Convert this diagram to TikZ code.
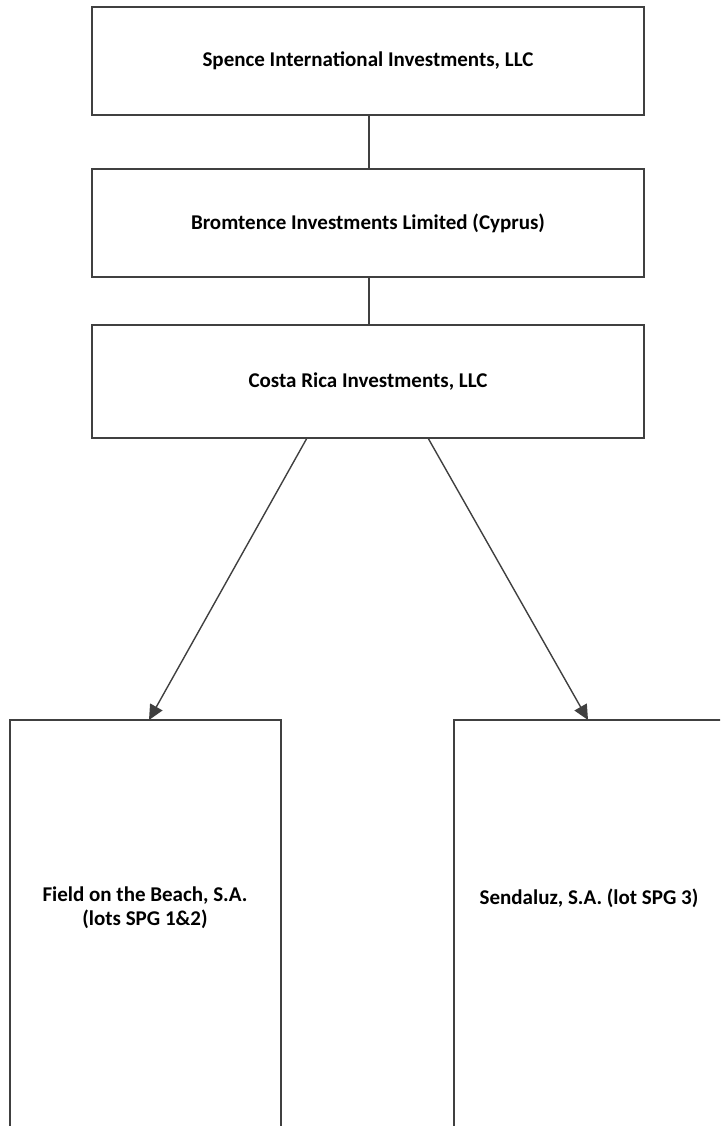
\documentclass[tikz,border=0pt]{standalone}
\usepackage{fontspec}
\setmainfont{Carlito}
\usetikzlibrary{arrows.meta}
\begin{document}
\begin{tikzpicture}[x=1pt,y=-1pt,
  box/.style={draw=black!75,line width=1.6pt,fill=white},
  lbl/.style={font=\bfseries\fontsize{21}{24}\selectfont,align=center,text=black},
  conn/.style={draw=black!75,line width=1.4pt},
  arr/.style={conn,-{Triangle[length=15pt,width=14pt]}}]
\useasboundingbox (0,0) rectangle (720,1126);
\clip (0,0) rectangle (720,1126);
\draw[box] (92,7) rectangle (644,115);
\node[lbl] (t1) at (368,61) {Spence International Investments, LLC};
\draw[box] (92,169) rectangle (644,277);
\node[lbl] (t2) at (368,223) {Bromtence Investments Limited (Cyprus)};
\draw[box] (92,325) rectangle (644,438);
\node[lbl] (t3) at (368,382) {Costa Rica Investments, LLC};
\draw[box] (10,720) rectangle (281,1140);
\node[lbl] (t4) at (145,908) {Field on the Beach, S.A.\\(lots SPG 1\&2)};
\draw[box] (454,720) rectangle (726,1140);
\node[lbl] (t5) at (589,898) {Sendaluz, S.A. (lot SPG 3)};
\coordinate (b1) at (369,115);
\coordinate (a2) at (369,169);
\coordinate (b2) at (369,277);
\coordinate (a3) at (369,325);
\coordinate (s1) at (307,438);
\coordinate (e1) at (149,720);
\coordinate (s2) at (428,438);
\coordinate (e2) at (588,720);
\draw[conn] (b1) -- (a2);
\draw[conn] (b2) -- (a3);
\draw[arr] (s1) -- (e1);
\draw[arr] (s2) -- (e2);
\end{tikzpicture}
\end{document}
